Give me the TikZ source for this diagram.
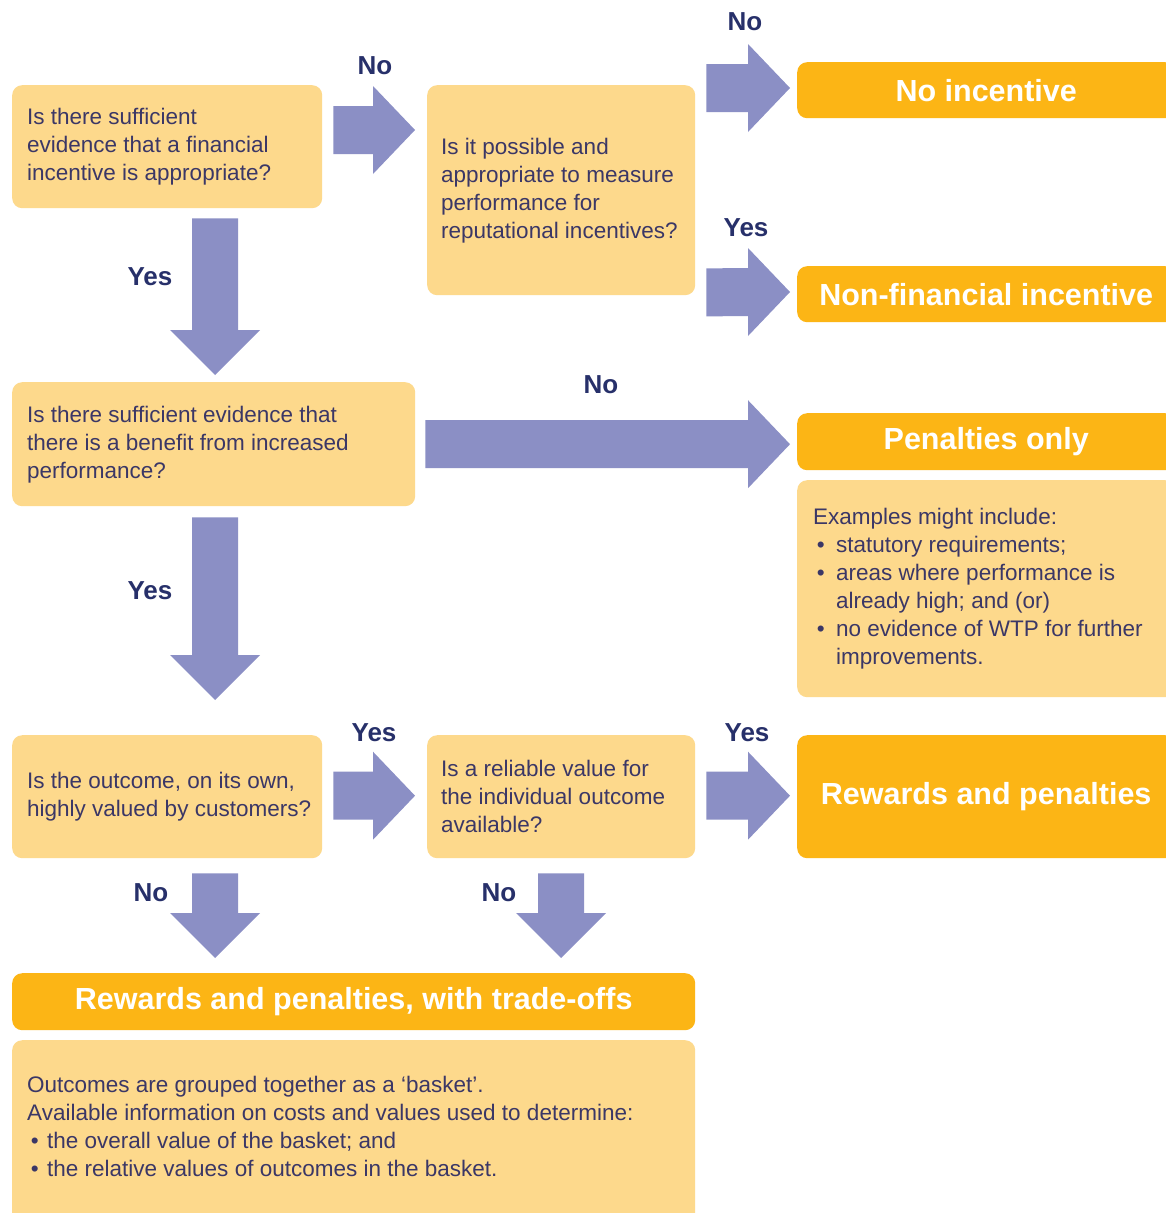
\documentclass[tikz,border=0pt]{standalone}
\usepackage{fontspec}
\setmainfont{Liberation Sans}
\usetikzlibrary{calc}
\definecolor{lightbox}{HTML}{FDD98C}
\definecolor{darkbox}{HTML}{FCB515}
\definecolor{arrowc}{HTML}{8B8FC5}
\definecolor{labelc}{HTML}{27306A}
\definecolor{bodyc}{HTML}{3B3766}
\newcommand\mybody{\fontsize{22.5pt}{28pt}\selectfont}
\newcommand\mytitle{\fontsize{30.5pt}{34pt}\selectfont\bfseries}
\newcommand\mylab{\fontsize{26pt}{30pt}\selectfont\bfseries}
\newcommand\hbarrow[2]{\fill[arrowc] ($(#1)+(0,-24)$) -- ($(#2)+(-42,-24)$) -- ($(#2)+(-42,-44)$) -- (#2) -- ($(#2)+(-42,44)$) -- ($(#2)+(-42,24)$) -- ($(#1)+(0,24)$) -- cycle;}
\newcommand\vbarrow[2]{\fill[arrowc] ($(#1)+(-23,0)$) -- ($(#2)+(-23,-45)$) -- ($(#2)+(-45,-45)$) -- (#2) -- ($(#2)+(45,-45)$) -- ($(#2)+(23,-45)$) -- ($(#1)+(23,0)$) -- cycle;}
\tikzset{
  lbox/.style={fill=lightbox, rounded corners=10pt, inner sep=0pt, anchor=north west},
  dbox/.style={fill=darkbox, rounded corners=10pt, inner sep=0pt, anchor=north west, text=white, font=\mytitle},
  qtext/.style={align=left, inner sep=0pt, anchor=west, text=bodyc, font=\mybody},
  lab/.style={text=labelc, font=\mylab, inner sep=0pt}
}
\begin{document}
\begin{tikzpicture}[x=1pt,y=-1pt]
\useasboundingbox (0,0) rectangle (1165,1213);
\fill[white] (0,0) rectangle (1165,1213);

% boxes
\node[lbox, minimum width=310pt, minimum height=123pt] (q1) at (12,85) {};
\node[lbox, minimum width=268pt, minimum height=210pt] (q2) at (427,85) {};
\node[dbox, minimum width=378pt, minimum height=56pt] (noinc) at (797,62) {No incentive};
\node[dbox, minimum width=378pt, minimum height=56pt] (nonfin) at (797,266) {Non-financial incentive};
\node[lbox, minimum width=403pt, minimum height=124pt] (q3) at (12,382) {};
\node[dbox, minimum width=378pt, minimum height=57pt] (pen) at (797,413) {Penalties only};
\node[lbox, minimum width=378pt, minimum height=217pt] (ex) at (797,480) {};
\node[lbox, minimum width=310pt, minimum height=123pt] (q4) at (12,735) {};
\node[lbox, minimum width=268pt, minimum height=123pt] (q5) at (427,735) {};
\node[dbox, minimum width=378pt, minimum height=123pt] (rp) at (797,735) {Rewards and penalties};
\node[dbox, minimum width=683pt, minimum height=57pt] (rpt) at (12,973) {Rewards and penalties, with trade-offs};
\node[lbox, minimum width=683pt, minimum height=185pt] (out) at (12,1040) {};

% texts
\node[qtext] (q1t) at ($(q1.west)+(15,0)$) {Is there sufficient\\evidence that a financial\\incentive is appropriate?};
\node[qtext] (q2t) at ($(q2.west)+(14,0)$) {Is it possible and\\appropriate to measure\\performance for\\reputational incentives?};
\node[qtext] (q3t) at ($(q3.west)+(15,0)$) {Is there sufficient evidence that\\there is a benefit from increased\\performance?};
\node[qtext] (q4t) at ($(q4.west)+(15,0)$) {Is the outcome, on its own,\\highly valued by customers?};
\node[qtext] (q5t) at ($(q5.west)+(14,0)$) {Is a reliable value for\\the individual outcome\\available?};
\node[qtext] (ext) at ($(ex.west)+(16,0)$) {Examples might include:\\
\makebox[23pt][l]{\,•}statutory requirements;\\
\makebox[23pt][l]{\,•}areas where performance is\\
\hspace*{23pt}already high; and (or)\\
\makebox[23pt][l]{\,•}no evidence of WTP for further\\
\hspace*{23pt}improvements.};
\node[qtext] (outt) at ($(out.west)+(15,-6)$) {Outcomes are grouped together as a ‘basket’.\\
Available information on costs and values used to determine:\\
\makebox[20pt][l]{\,•}the overall value of the basket; and\\
\makebox[20pt][l]{\,•}the relative values of outcomes in the basket.};

% arrow coordinates
\coordinate (a1s) at ($(q1.north east)+(11,45)$);
\coordinate (a1e) at ($(q2.north west)+(-12,45)$);
\coordinate (a2s) at ($(q2.north east)+(11,3)$);
\coordinate (a2e) at ($(noinc.north west)+(-7,26)$);
\coordinate (a3s) at ($(q2.south east)+(11,-3)$);
\coordinate (a3e) at ($(nonfin.north west)+(-7,26)$);
\coordinate (a4s) at ($(q3.east)+(10,0)$);
\coordinate (a4e) at ($(a4s -| pen.west)+(-7,0)$);
\coordinate (a5s) at ($(q4.east)+(11,-1)$);
\coordinate (a5e) at ($(a5s -| q5.west)+(-12,0)$);
\coordinate (a6s) at ($(q5.east)+(11,-1)$);
\coordinate (a6e) at ($(a6s -| rp.west)+(-7,0)$);
\coordinate (v1s) at ($(q1.south)+(48,10)$);
\coordinate (v1e) at ($(v1s |- q3.north)+(0,-7)$);
\coordinate (v2s) at ($(v1s |- q3.south)+(0,11)$);
\coordinate (v2e) at ($(v2s |- q4.north)+(0,-35)$);
\coordinate (v3s) at ($(v1s |- q4.south)+(0,15)$);
\coordinate (v3e) at ($(v3s |- rpt.north)+(0,-15)$);
\coordinate (v4s) at ($(q5.south)+(0,15)$);
\coordinate (v4e) at ($(v4s |- rpt.north)+(0,-15)$);

% arrows
\hbarrow{a1s}{a1e}
\hbarrow{a2s}{a2e}
\hbarrow{a3s}{a3e}
\hbarrow{a4s}{a4e}
\hbarrow{a5s}{a5e}
\hbarrow{a6s}{a6e}
\vbarrow{v1s}{v1e}
\vbarrow{v2s}{v2e}
\vbarrow{v3s}{v3e}
\vbarrow{v4s}{v4e}

% labels
\node[lab] (l1) at (375,66) {No};
\node[lab] (l2) at (745,22) {No};
\node[lab] (l3) at (746,228) {Yes};
\node[lab] (l4) at (150,277) {Yes};
\node[lab] (l5) at (601,385) {No};
\node[lab] (l6) at (150,591) {Yes};
\node[lab] (l7) at (374,733) {Yes};
\node[lab] (l8) at (747,733) {Yes};
\node[lab] (l9) at (151,893) {No};
\node[lab] (l10) at (499,893) {No};
\end{tikzpicture}
\end{document}
